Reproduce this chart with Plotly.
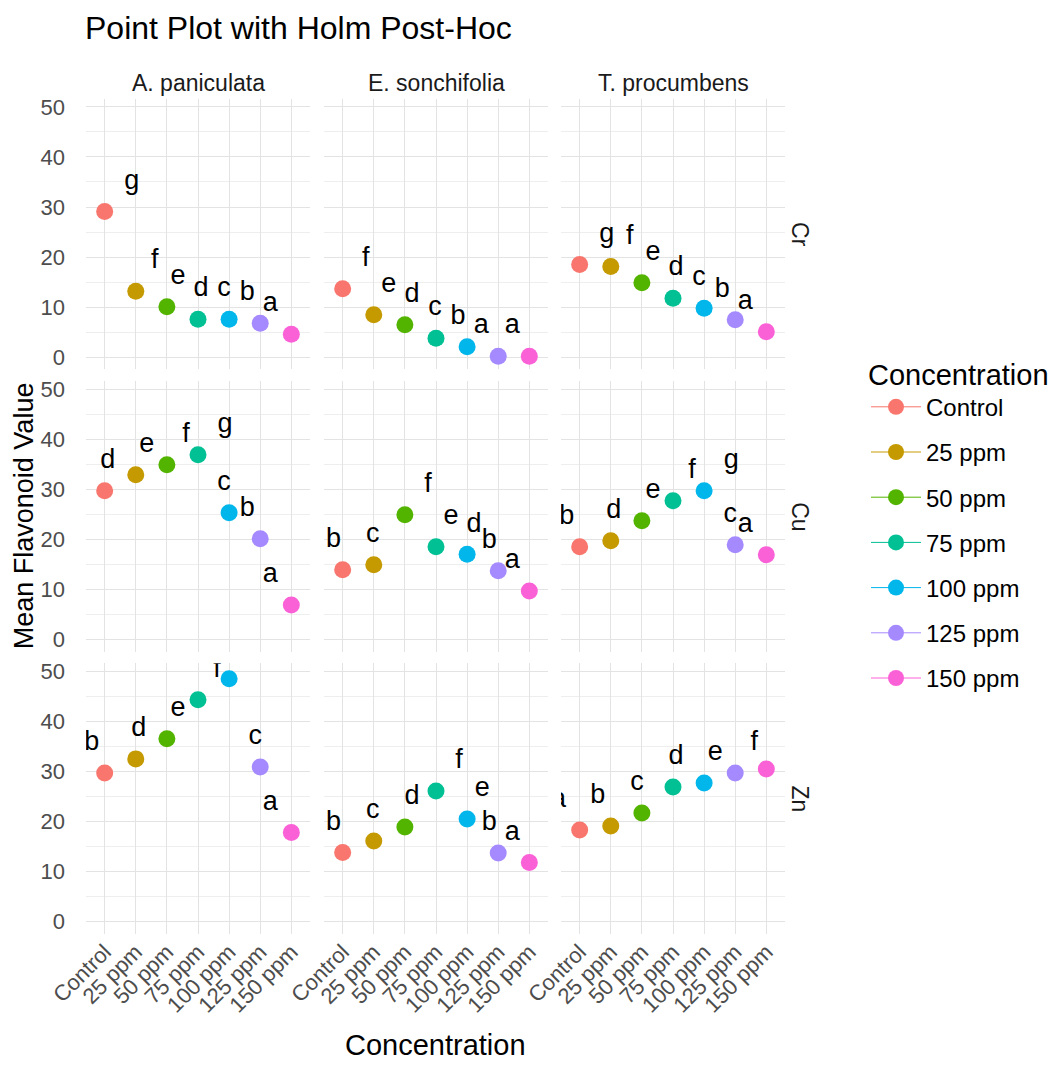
import plotly.graph_objects as go

# ---------------- data ----------------
concentrations = ["Control", "25 ppm", "50 ppm", "75 ppm", "100 ppm", "125 ppm", "150 ppm"]
species = ["A. paniculata", "E. sonchifolia", "T. procumbens"]
metals = ["Cr", "Cu", "Zn"]

cr_a_paniculata = [29.1, 13.2, 10.1, 7.6, 7.6, 6.8, 4.6]
cr_e_sonchifolia = [13.7, 8.5, 6.5, 3.8, 2.1, 0.2, 0.2]
cr_t_procumbens = [18.5, 18.1, 14.9, 11.8, 9.8, 7.5, 5.1]
cu_a_paniculata = [29.7, 32.9, 34.9, 36.9, 25.3, 20.1, 6.9]
cu_e_sonchifolia = [13.9, 14.9, 24.9, 18.5, 17.0, 13.7, 9.7]
cu_t_procumbens = [18.5, 19.7, 23.7, 27.7, 29.7, 18.9, 16.9]
zn_a_paniculata = [29.7, 32.5, 36.5, 44.3, 48.5, 30.9, 17.8]
zn_e_sonchifolia = [13.8, 16.1, 18.9, 26.1, 20.5, 13.7, 11.8]
zn_t_procumbens = [18.3, 19.1, 21.7, 26.9, 27.7, 29.7, 30.5]

cr_a_paniculata_letters = ["g", "f", "e", "d", "c", "b", "a"]
cr_e_sonchifolia_letters = ["f", "e", "d", "c", "b", "a", "a"]
cr_t_procumbens_letters = ["g", "f", "e", "d", "c", "b", "a"]
cu_a_paniculata_letters = ["d", "e", "f", "g", "c", "b", "a"]
cu_e_sonchifolia_letters = ["b", "c", "f", "e", "d", "b", "a"]
cu_t_procumbens_letters = ["b", "d", "e", "f", "g", "c", "a"]
zn_a_paniculata_letters = ["b", "d", "e", "f", "g", "c", "a"]
zn_e_sonchifolia_letters = ["b", "c", "d", "f", "e", "b", "a"]
zn_t_procumbens_letters = ["a", "b", "c", "d", "e", "f", "g"]

y_ticks = [0, 10, 20, 30, 40, 50]

panels = [
    [(cr_a_paniculata, cr_a_paniculata_letters), (cr_e_sonchifolia, cr_e_sonchifolia_letters), (cr_t_procumbens, cr_t_procumbens_letters)],
    [(cu_a_paniculata, cu_a_paniculata_letters), (cu_e_sonchifolia, cu_e_sonchifolia_letters), (cu_t_procumbens, cu_t_procumbens_letters)],
    [(zn_a_paniculata, zn_a_paniculata_letters), (zn_e_sonchifolia, zn_e_sonchifolia_letters), (zn_t_procumbens, zn_t_procumbens_letters)],
]

# ---------------- style ----------------
palette = ["#F8766D", "#C49A00", "#53B400", "#00C094", "#00B6EB", "#A58AFF", "#FB61D7"]
FONT = "Liberation Sans, Arial, sans-serif"
PAGE_OFF = 8            # default body margin of the html page
W, H = 1061 - PAGE_OFF, 1070 - PAGE_OFF
col_x0 = [86, 324, 561]
col_w = 224
row_top = [98.8, 381.0, 663.2]
row_h = 270.5
grid_major = "#e3e3e3"
grid_minor = "#eeeeee"

def px_x(v):
    return (v - PAGE_OFF) / W

def px_y(v):
    return 1 - (v - PAGE_OFF) / H

fig = go.Figure()
layout_axes = {}

for r in range(3):
    for c in range(3):
        p = r * 3 + c + 1
        xa = "x" if p == 1 else f"x{p}"
        ya = "y" if p == 1 else f"y{p}"
        vals, letters = panels[r][c]
        idx = list(range(len(concentrations)))
        fig.add_trace(go.Scatter(
            x=idx, y=vals, mode="markers", xaxis=xa, yaxis=ya,
            marker=dict(size=17, color=palette, line=dict(width=0)),
            showlegend=False, hoverinfo="skip", cliponaxis=True,
        ))
        uniq = sorted(set(letters))
        n = len(uniq)
        tx = [i + (uniq.index(l) - (n - 1) / 2) * 0.258 + 0.097 for i, l in zip(idx, letters)]
        ty = [v + 5.9 for v in vals]
        fig.add_trace(go.Scatter(
            x=tx, y=ty, mode="text", text=letters, xaxis=xa, yaxis=ya,
            textposition="middle center",
            textfont=dict(family=FONT, size=27, color="#000000"),
            showlegend=False, hoverinfo="skip", cliponaxis=True,
        ))
        xkey = "xaxis" if p == 1 else f"xaxis{p}"
        ykey = "yaxis" if p == 1 else f"yaxis{p}"
        x0 = col_x0[c]
        y0 = row_top[r]
        layout_axes[xkey] = dict(
            domain=[px_x(x0), px_x(x0 + col_w)], anchor=ya,
            range=[-0.6, len(concentrations) - 0.4],
            tickmode="array", tickvals=idx, ticktext=concentrations,
            showticklabels=(r == 2), tickangle=-45,
            tickfont=dict(family=FONT, size=22, color="#4D4D4D"),
            ticks="", showgrid=True, gridcolor=grid_major, gridwidth=1.2,
            zeroline=False, showline=False, fixedrange=True,
            ticklabelstandoff=0,
        )
        layout_axes[ykey] = dict(
            domain=[px_y(y0 + row_h), px_y(y0)], anchor=xa,
            range=[-2.4, 51.6], tickmode="array", tickvals=y_ticks,
            showticklabels=(c == 0),
            tickfont=dict(family=FONT, size=22, color="#4D4D4D"),
            ticks="", showgrid=True, gridcolor=grid_major, gridwidth=1.2,
            minor=dict(tickmode="linear", tick0=5, dtick=10, showgrid=True,
                       gridcolor=grid_minor, gridwidth=0.8, ticks=""),
            zeroline=False, showline=False, fixedrange=True,
            ticklabelstandoff=20,
        )

# legend traces
for name, col in zip(concentrations, palette):
    fig.add_trace(go.Scatter(
        x=[None], y=[None], mode="lines+markers", name=name, legendgroup=name,
        marker=dict(size=16, color=col), line=dict(color=col, width=1),
        xaxis="x", yaxis="y",
    ))

annotations = []
annotations.append(dict(text="Point Plot with Holm Post-Hoc", x=px_x(83), y=px_y(28),
                        xref="paper", yref="paper", xanchor="left", yanchor="middle",
                        showarrow=False, font=dict(family=FONT, size=32, color="#000000")))
for c, sp in enumerate(species):
    annotations.append(dict(text=sp, x=px_x(col_x0[c] + col_w / 2), y=px_y(83),
                            xref="paper", yref="paper", xanchor="center", yanchor="middle",
                            showarrow=False, font=dict(family=FONT, size=23, color="#1A1A1A")))
for r, m in enumerate(metals):
    annotations.append(dict(text=m, x=px_x(800), y=px_y(row_top[r] + row_h / 2),
                            xref="paper", yref="paper", xanchor="center", yanchor="middle",
                            textangle=90, showarrow=False,
                            font=dict(family=FONT, size=23, color="#1A1A1A")))
annotations.append(dict(text="Concentration", x=px_x((col_x0[0] + col_x0[2] + col_w) / 2), y=px_y(1045),
                        xref="paper", yref="paper", xanchor="center", yanchor="middle",
                        showarrow=False, font=dict(family=FONT, size=29, color="#000000")))
annotations.append(dict(text="Mean Flavonoid Value", x=px_x(24), y=px_y((row_top[0] + row_top[2] + row_h) / 2),
                        xref="paper", yref="paper", xanchor="center", yanchor="middle",
                        textangle=-90, showarrow=False, font=dict(family=FONT, size=27, color="#000000")))

fig.update_layout(
    width=W, height=H,
    margin=dict(l=0, r=0, t=0, b=0, autoexpand=False),
    paper_bgcolor="white", plot_bgcolor="white",
    annotations=annotations,
    showlegend=True,
    legend=dict(
        x=px_x(866), y=px_y(347), xanchor="left", yanchor="top",
        title=dict(text="Concentration", font=dict(family=FONT, size=29, color="#000000")),
        font=dict(family=FONT, size=24, color="#000000"),
        tracegroupgap=11, itemwidth=50,
        bgcolor="rgba(0,0,0,0)", itemclick=False, itemdoubleclick=False,
    ),
    **layout_axes,
)

fig.write_html("out.html")
